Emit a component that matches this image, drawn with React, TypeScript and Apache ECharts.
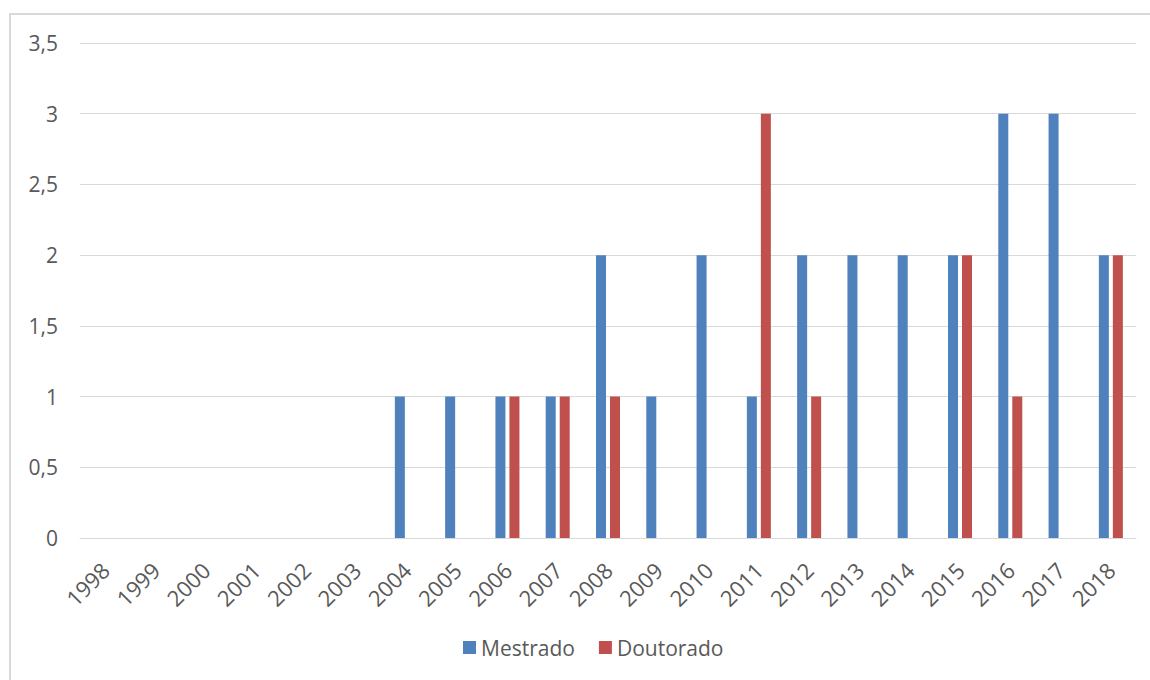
import React, { useEffect, useRef } from "react";
import * as echarts from "echarts";

const years = ["1998","1999","2000","2001","2002","2003","2004","2005","2006","2007","2008","2009","2010","2011","2012","2013","2014","2015","2016","2017","2018"];
const mestrado = [0,0,0,0,0,0,1,1,1,1,2,1,2,1,2,2,2,2,3,3,2];
const doutorado = [0,0,0,0,0,0,0,0,1,1,1,0,0,3,1,0,0,2,1,0,2];

const FONT = "Open Sans";

export default function App() {
  const ref = useRef<HTMLDivElement>(null);
  useEffect(() => {
    if (!ref.current) return;
    const chart = echarts.init(ref.current, null, { renderer: "svg" });
    chart.setOption({
      animation: false,
      backgroundColor: "#ffffff",
      textStyle: { fontFamily: FONT },
      graphic: [
        { type: "rect", shape: { x: 10, y: 14, width: 1200, height: 720 }, style: { fill: "none", stroke: "#d9d9d9", lineWidth: 2 }, silent: true }
      ],
      grid: { left: 80, right: 14, top: 43, bottom: 142 },
      legend: {
        left: 458, top: 632,
        itemWidth: 13, itemHeight: 13, itemGap: 24,
        icon: "rect",
        textStyle: { fontFamily: FONT, fontSize: 21, color: "#595959" },
        data: ["Mestrado", "Doutorado"]
      },
      xAxis: {
        type: "category",
        data: years,
        axisLine: { show: true, lineStyle: { color: "#d9d9d9", width: 1 } },
        axisTick: { show: false },
        axisLabel: { rotate: 45, fontSize: 22, color: "#595959", fontFamily: FONT, margin: 28, interval: 0 }
      },
      yAxis: {
        type: "value",
        min: 0, max: 3.5, interval: 0.5,
        axisLine: { show: false },
        axisTick: { show: false },
        splitLine: { lineStyle: { color: "#d9d9d9", width: 1 } },
        axisLabel: {
          fontSize: 21, color: "#595959", fontFamily: FONT, margin: 22,
          formatter: (v: number) => String(v).replace(".", ",")
        }
      },
      series: [
        { name: "Mestrado", type: "bar", data: mestrado, barWidth: 10, barGap: "40%", itemStyle: { color: "#4F81BD" } },
        { name: "Doutorado", type: "bar", data: doutorado, barWidth: 10, itemStyle: { color: "#C0504D" } }
      ]
    });
    return () => chart.dispose();
  }, []);
  return <div ref={ref} style={{ position: "fixed", left: 0, top: 0, width: 1150, height: 680 }} />;
}
